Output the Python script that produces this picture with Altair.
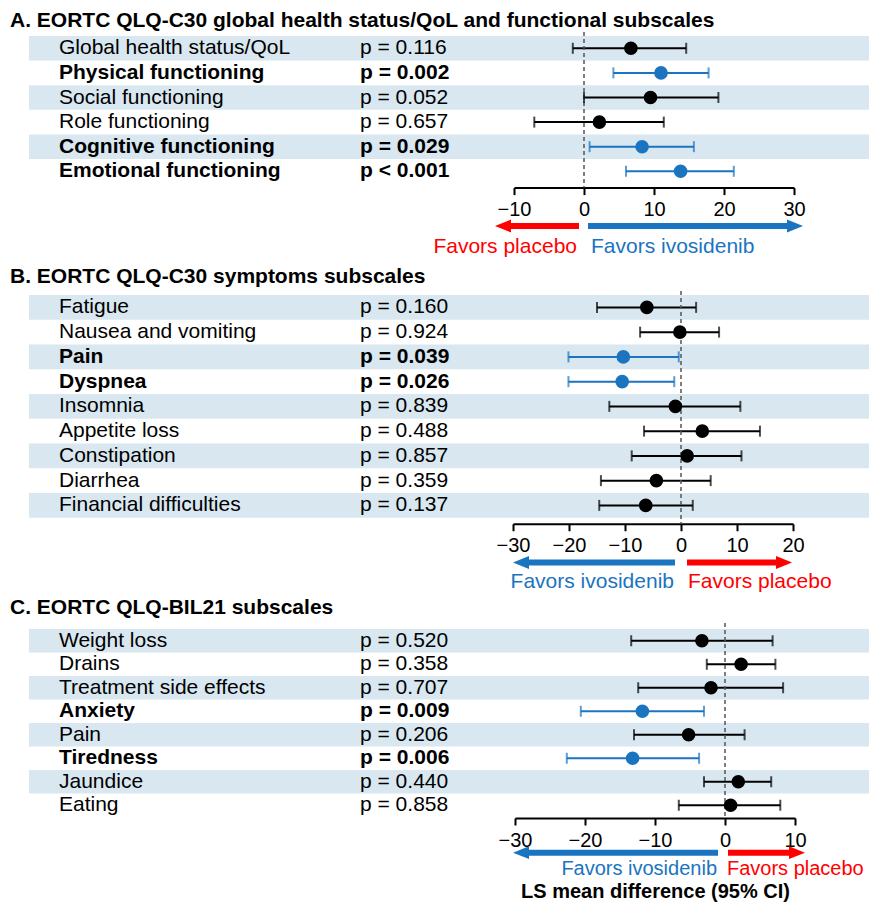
import altair as alt
import pandas as pd

FONT = "Liberation Sans"
FS = 21
TFS = 20
BLUE = "#1a74c0"
RED = "#ff0000"
BAND = "#d8e7f0"
W = 845

# ---------------- data ----------------
A_labels = ["Global health status/QoL", "Physical functioning", "Social functioning",
            "Role functioning", "Cognitive functioning", "Emotional functioning"]
A_p = ["p = 0.116", "p = 0.002", "p = 0.052", "p = 0.657", "p = 0.029", "p < 0.001"]
A_est = [6.7, 11.0, 9.5, 2.2, 8.3, 13.8]
A_lo = [-1.6, 4.2, 0.0, -7.1, 0.8, 6.0]
A_hi = [14.6, 17.8, 19.2, 11.4, 15.7, 21.4]
A_sig = [False, True, False, False, True, True]
A_ticks = [-10, 0, 10, 20, 30]

B_labels = ["Fatigue", "Nausea and vomiting", "Pain", "Dyspnea", "Insomnia",
            "Appetite loss", "Constipation", "Diarrhea", "Financial difficulties"]
B_p = ["p = 0.160", "p = 0.924", "p = 0.039", "p = 0.026", "p = 0.839",
       "p = 0.488", "p = 0.857", "p = 0.359", "p = 0.137"]
B_est = [-6.1, -0.2, -10.3, -10.5, -1.0, 3.8, 1.1, -4.4, -6.3]
B_lo = [-15.0, -7.3, -20.1, -20.1, -12.8, -6.6, -8.8, -14.3, -14.6]
B_hi = [2.7, 6.8, -0.4, -1.2, 10.6, 14.1, 10.8, 5.3, 2.1]
B_sig = [False, False, True, True, False, False, False, False, False]
B_ticks = [-30, -20, -10, 0, 10, 20]

C_labels = ["Weight loss", "Drains", "Treatment side effects", "Anxiety", "Pain",
            "Tiredness", "Jaundice", "Eating"]
C_p = ["p = 0.520", "p = 0.358", "p = 0.707", "p = 0.009", "p = 0.206",
       "p = 0.006", "p = 0.440", "p = 0.858"]
C_est = [-3.3, 2.3, -2.0, -11.8, -5.2, -13.2, 1.9, 0.8]
C_lo = [-13.4, -2.6, -12.4, -20.6, -13.0, -22.6, -3.0, -6.6]
C_hi = [6.8, 7.2, 8.3, -3.0, 2.8, -3.7, 6.6, 7.9]
C_sig = [False, False, False, True, False, True, False, False]
C_ticks = [-30, -20, -10, 0, 10]

TITLES = ["A. EORTC QLQ-C30 global health status/QoL and functional subscales",
          "B. EORTC QLQ-C30 symptoms subscales",
          "C. EORTC QLQ-BIL21 subscales"]
FAV_PLACEBO = "Favors placebo"
FAV_IVO = "Favors ivosidenib"
XTITLE = "LS mean difference (95% CI)"

LEFT_HEAD = "M-1,0L1,-0.8L1,0.8Z"
RIGHT_HEAD = "M1,0L-1,-0.8L-1,0.8Z"


def panel(title, labels, pvals, est, lo, hi, sig, ticks, xrange, row_h, axis_off,
          title_y, arrow_y, text_y, dash_top, left_fav, right_fav,
          l_start, l_tip, r_start, r_tip, l_txt, r_txt, fav_fs=FS,
          xtitle=None, xtitle_y=None):
    n = len(labels)
    H = n * row_h
    domain = [ticks[0], ticks[-1]]
    df = pd.DataFrame({"label": labels, "p": pvals, "est": est, "lo": lo, "hi": hi,
                       "sig": sig, "band": [i % 2 == 0 for i in range(n)]})
    one = pd.DataFrame({"k": [0]})
    base = alt.Chart(df)
    ys = alt.Scale(type="band", domain=labels, paddingInner=0, paddingOuter=0)
    Y = alt.Y("label:N", scale=ys, axis=None)
    axis_kw = dict(values=ticks, grid=False, domainColor="black", domainWidth=2,
                   tickColor="black", tickWidth=2, tickSize=7, labelFontSize=TFS,
                   labelFont=FONT, labelColor="black", labelPadding=5, labelFlush=False,
                   labelOverlap=False, labelBound=False, offset=axis_off, format="d")
    if xtitle:
        axis_kw.update(title=xtitle, titleFont=FONT, titleFontSize=20, titleFontWeight="bold",
                       titleColor="black", titleY=xtitle_y, titleBaseline="alphabetic")
    else:
        axis_kw.update(title=None)
    xs = alt.Scale(domain=domain, range=xrange, nice=False, zero=False)
    col = alt.condition("datum.sig", alt.value(BLUE), alt.value("black"))

    bands = base.transform_filter("datum.band").mark_rect(color=BAND).encode(
        y=Y, x=alt.value(0), x2=alt.value(W))
    ci = base.mark_rule(strokeWidth=2).encode(
        x=alt.X("lo:Q", scale=xs, axis=alt.Axis(**axis_kw)), x2="hi:Q", y=Y, color=col)
    dash = alt.Chart(one).mark_rule(strokeDash=[4, 3], color="#555555", strokeWidth=1.5).encode(
        x=alt.datum(0), y=alt.value(dash_top), y2=alt.value(H + axis_off))
    cap_lo = base.mark_tick(thickness=2, size=11).encode(x="lo:Q", y=Y, color=col)
    cap_hi = base.mark_tick(thickness=2, size=11).encode(x="hi:Q", y=Y, color=col)
    pts = base.mark_circle(size=185, opacity=1).encode(x="est:Q", y=Y, color=col)

    def txt(field, xpos, bold):
        flt = "datum.sig" if bold else "!datum.sig"
        return base.transform_filter(flt).mark_text(
            align="left", baseline="middle", font=FONT, fontSize=FS, color="black",
            fontWeight="bold" if bold else "normal").encode(
            y=Y, x=alt.value(xpos), text=f"{field}:N")

    ttl = alt.Chart(one).mark_text(align="left", baseline="alphabetic", font=FONT, fontSize=FS,
                                   fontWeight="bold", color="black", text=title).encode(
        x=alt.value(-19), y=alt.value(title_y))

    def arrow(side, fav):
        c = RED if fav == FAV_PLACEBO else BLUE
        if side == "left":
            shaft = alt.Chart(one).mark_rule(strokeWidth=6, color=c, xOffset=l_start,
                                             x2Offset=l_tip + 12).encode(
                x=alt.datum(0), x2=alt.datum(domain[0]), y=alt.value(arrow_y))
            head = alt.Chart(one).mark_point(shape=LEFT_HEAD, size=256, filled=True, opacity=1,
                                             strokeWidth=0, color=c, xOffset=l_tip + 8).encode(
                x=alt.datum(domain[0]), y=alt.value(arrow_y))
            lab = alt.Chart(one).mark_text(align="right", baseline="middle", font=FONT,
                                           fontSize=fav_fs, color=c, text=fav,
                                           xOffset=l_txt).encode(
                x=alt.datum(0), y=alt.value(text_y))
        else:
            shaft = alt.Chart(one).mark_rule(strokeWidth=6, color=c, xOffset=r_start,
                                             x2Offset=r_tip - 12).encode(
                x=alt.datum(0), x2=alt.datum(domain[1]), y=alt.value(arrow_y))
            head = alt.Chart(one).mark_point(shape=RIGHT_HEAD, size=256, filled=True, opacity=1,
                                             strokeWidth=0, color=c, xOffset=r_tip - 8).encode(
                x=alt.datum(domain[1]), y=alt.value(arrow_y))
            lab = alt.Chart(one).mark_text(align="left", baseline="middle", font=FONT,
                                           fontSize=fav_fs, color=c, text=fav,
                                           xOffset=r_txt).encode(
                x=alt.datum(0), y=alt.value(text_y))
        return [shaft, head, lab]

    layers = [bands, ci, dash, cap_lo, cap_hi, pts,
              txt("label", 30, False), txt("label", 30, True),
              txt("p", 331, False), txt("p", 331, True), ttl]
    layers += arrow("left", left_fav) + arrow("right", right_fav)
    return alt.layer(*layers).properties(width=W, height=H)


pA = panel(TITLES[0], A_labels, A_p, A_est, A_lo, A_hi, A_sig, A_ticks, [485, 765], 24.6, 4,
           -9, 190, 210.7, -4, FAV_PLACEBO, FAV_IVO, -5, -19, 4, 9, -7, 7)
pB = panel(TITLES[1], B_labels, B_p, B_est, B_lo, B_hi, B_sig, B_ticks, [484, 764], 24.75, 6,
           -12, 267.5, 286.5, -4, FAV_IVO, FAV_PLACEBO, -6, 0, 6, -1, -7, 7)
pC = panel(TITLES[2], C_labels, C_p, C_est, C_lo, C_hi, C_sig, C_ticks, [486, 766], 23.5, 1,
           -15.4, 223.65, 239.65, -6, FAV_IVO, FAV_PLACEBO, -7, -2, 3, 10, -8, 2, fav_fs=20,
           xtitle=XTITLE, xtitle_y=79.65)

chart = alt.vconcat(pA, pB, pC, spacing=111, bounds="flush").properties(
    padding={"left": 2, "top": 2, "right": -5, "bottom": 1}, background="white"
).configure_view(stroke=None)

chart.save("out.html", embed_options={"renderer": "svg", "actions": False})
